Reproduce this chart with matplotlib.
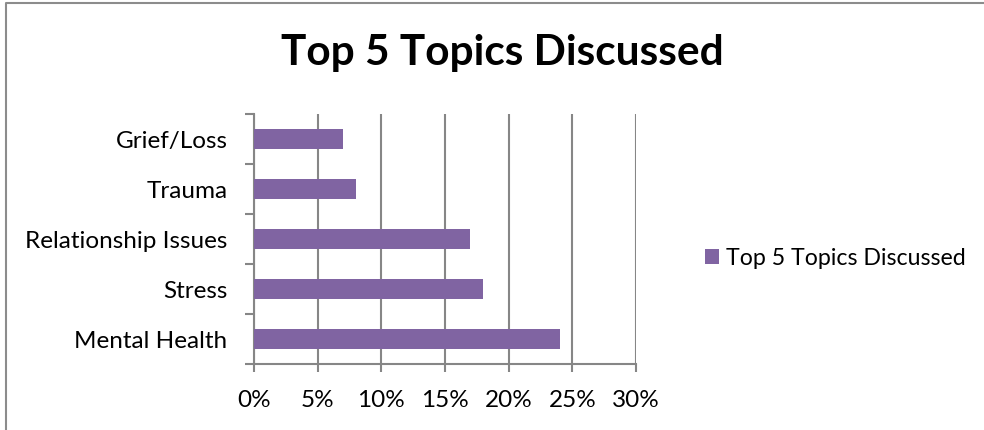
import matplotlib.pyplot as plt
from matplotlib.lines import Line2D
from matplotlib.ticker import FuncFormatter

plt.rcParams['font.family'] = ['Lato', 'DejaVu Sans']

topics = ['Mental Health', 'Stress', 'Relationship Issues', 'Trauma', 'Grief/Loss']
shares = [0.24, 0.18, 0.17, 0.08, 0.07]
series_name = 'Top 5 Topics Discussed'
x_ticks = [0, 0.05, 0.10, 0.15, 0.20, 0.25, 0.30]

bar_color = '#8064A2'
grid_color = '#868686'
W, H = 984, 431

fig = plt.figure(figsize=(W / 100, H / 100), dpi=100)
# axes box in pixels: x 254..636, y 115..365 (from top)
ax = fig.add_axes([254 / W, 1 - 365 / H, (636 - 254) / W, (365 - 115) / H])

ax.barh(range(len(topics)), shares, height=0.4, color=bar_color, label=series_name, zorder=3)
ax.set_xlim(0, 0.30)
ax.set_ylim(-0.5, len(topics) - 0.5)
ax.set_xticks(x_ticks)
ax.xaxis.set_major_formatter(FuncFormatter(lambda v, p: f'{round(v * 100)}%'))
ax.set_yticks(range(len(topics)))
ax.set_yticklabels(topics)
# category ticks sit between the bars
ax.set_yticks([i - 0.5 for i in range(len(topics) + 1)], minor=True)
ax.tick_params(axis='y', which='major', length=0, pad=19, labelsize=17.5)
ax.tick_params(axis='y', which='minor', length=6.5, width=1.5, color=grid_color)
ax.tick_params(axis='x', length=6, width=1.5, color=grid_color, pad=12, labelsize=17.5)

ax.grid(axis='x', color=grid_color, linewidth=1.5, zorder=0)
for side in ('top', 'right'):
    ax.spines[side].set_visible(False)
for side in ('left', 'bottom'):
    ax.spines[side].set_color(grid_color)
    ax.spines[side].set_linewidth(1.5)

fig.text(502 / W, 1 - 53 / H, 'Top 5 Topics Discussed', ha='center', va='center',
         fontsize=30.5, fontweight='bold')

fig.legend(loc='center left', bbox_to_anchor=(696 / W, 1 - 259 / H), frameon=False,
           fontsize=16.7, handlelength=0.6, handleheight=0.6, handletextpad=0.3,
           borderaxespad=0)

# outer chart border: only the left and top edges fall inside the image
x0, y0 = 5.5 / W, 1 - 3.5 / H
fig.lines.append(Line2D([x0, x0, 1.2], [-0.2, y0, y0], transform=fig.transFigure,
                        color='#8c8c8c', linewidth=1.5))

fig.savefig('out.png', dpi=100)
